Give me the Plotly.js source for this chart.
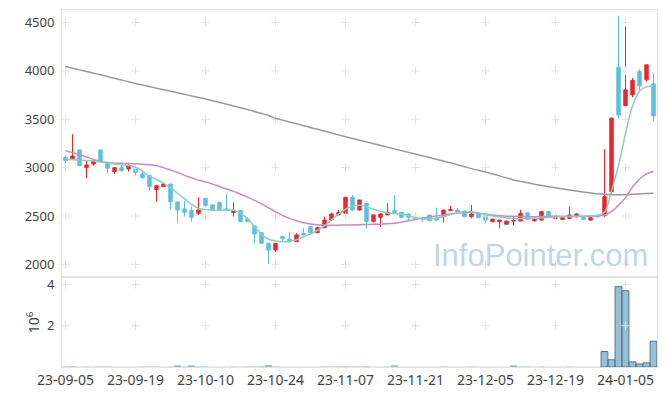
<!DOCTYPE html>
<html>
<head>
<meta charset="utf-8">
<script src="https://cdn.plot.ly/plotly-3.0.1.min.js"></script>
<style>
html,body{margin:0;padding:0;background:#fff;}
#chart{width:665px;height:396px;}
</style>
</head>
<body>
<div id="chart"></div>
<script>
const dates = [
'23-09-05','23-09-06','23-09-07','23-09-08','23-09-11','23-09-12','23-09-13','23-09-14','23-09-15','23-09-18',
'23-09-19','23-09-20','23-09-21','23-09-22','23-09-25','23-09-26','23-09-27','23-10-04','23-10-05','23-10-06',
'23-10-10','23-10-11','23-10-12','23-10-13','23-10-16','23-10-17','23-10-18','23-10-19','23-10-20','23-10-23',
'23-10-24','23-10-25','23-10-26','23-10-27','23-10-30','23-10-31','23-11-01','23-11-02','23-11-03','23-11-06',
'23-11-07','23-11-08','23-11-09','23-11-10','23-11-13','23-11-14','23-11-15','23-11-16','23-11-17','23-11-20',
'23-11-21','23-11-22','23-11-23','23-11-24','23-11-27','23-11-28','23-11-29','23-11-30','23-12-01','23-12-04',
'23-12-05','23-12-06','23-12-07','23-12-08','23-12-11','23-12-12','23-12-13','23-12-14','23-12-15','23-12-18',
'23-12-19','23-12-20','23-12-21','23-12-22','23-12-26','23-12-27','23-12-28','24-01-02','24-01-03','24-01-04',
'24-01-05','24-01-08','24-01-09','24-01-10','24-01-11'];

const openP = [
3107,3083,3183,3000,3038,3183,3055,2959,3000,2987,
2987,2935,2918,2773,2804,2831,2645,2573,2556,2528,
2683,2614,2642,2573,2535,2556,2469,2397,2328,2218,
2149,2287,2262,2234,2321,2390,2328,2379,2459,2511,
2528,2693,2562,2631,2442,2486,2511,2555,2538,2521,
2482,2482,2510,2476,2493,2555,2562,2551,2493,2520,
2503,2441,2441,2414,2448,2448,2534,2452,2458,2545,
2476,2465,2476,2493,2483,2458,2500,2505,2752,4039,
3642,3752,3994,3908,3866];
const highP = [
3125,3345,3183,3080,3087,3183,3062,3004,3035,3035,
3000,2952,2918,2821,2831,2831,2645,2659,2597,2694,
2683,2625,2642,2728,2642,2563,2487,2397,2328,2218,
2218,2297,2338,2321,2379,2390,2390,2493,2535,2562,
2693,2717,2666,2631,2511,2528,2631,2717,2538,2527,
2490,2493,2510,2586,2562,2603,2579,2555,2614,2524,
2503,2469,2458,2448,2503,2562,2534,2476,2555,2552,
2511,2487,2596,2528,2486,2490,2510,3190,3520,4570,
4501,3925,4018,4063,3977];
const lowP = [
3045,3083,3021,2890,3021,3055,2942,2935,2959,2959,
2918,2883,2762,2648,2804,2562,2424,2494,2442,2511,
2597,2556,2556,2556,2494,2442,2442,2218,2211,2004,
2131,2235,2224,2234,2297,2304,2321,2373,2448,2511,
2528,2555,2555,2372,2435,2390,2511,2528,2476,2445,
2460,2441,2445,2448,2434,2555,2538,2490,2476,2476,
2424,2434,2372,2410,2400,2448,2460,2441,2452,2495,
2470,2460,2465,2486,2460,2452,2486,2490,2717,3511,
3632,3728,3804,3890,3483];
const closeP = [
3073,3121,3021,3028,3069,3062,2994,3000,2969,3018,
2949,2897,2804,2814,2831,2648,2562,2538,2487,2563,
2607,2556,2556,2560,2556,2442,2442,2314,2218,2149,
2218,2266,2235,2304,2304,2328,2379,2459,2521,2535,
2693,2562,2666,2442,2511,2521,2538,2535,2486,2486,
2469,2469,2451,2458,2562,2565,2545,2493,2520,2482,
2458,2469,2458,2448,2452,2527,2465,2465,2545,2500,
2500,2482,2510,2521,2465,2483,2493,2700,3511,3545,
3804,3901,3845,4063,3535];
const volume = [
20000,35000,18000,25000,12000,30000,22000,15000,10000,14000,
18000,20000,25000,28000,9000,30000,90000,25000,90000,30000,
22000,15000,18000,12000,20000,16000,24000,28000,35000,100000,
20000,15000,12000,18000,10000,14000,16000,22000,25000,20000,
40000,30000,25000,38000,18000,16000,20000,80000,15000,12000,
10000,14000,11000,18000,25000,12000,10000,15000,20000,13000,
16000,12000,14000,11000,80000,30000,20000,12000,25000,18000,
10000,9000,22000,15000,11000,13000,10000,750000,350000,3900000,
3700000,250000,150000,200000,1250000];
const ma5 = [
3087,3083,3080,3075,3068,3058,3047,3038,3030,3022,
3005,2965,2910,2880,2840,2790,2735,2680,2620,2578,
2566,2563,2562,2561,2560,2530,2470,2390,2310,2260,
2242,2235,2237,2255,2285,2315,2350,2400,2460,2520,
2570,2600,2610,2595,2570,2550,2532,2525,2518,2505,
2482,2472,2470,2476,2495,2515,2535,2543,2545,2530,
2515,2500,2490,2480,2474,2472,2478,2478,2481,2485,
2490,2492,2495,2498,2500,2503,2508,2540,2760,3020,
3350,3640,3790,3835,3845];
const ma20 = [
3175,3155,3135,3110,3085,3063,3052,3046,3045,3043,
3040,3035,3030,3020,3000,2975,2950,2920,2895,2870,
2855,2830,2805,2780,2755,2725,2695,2662,2625,2585,
2545,2505,2475,2450,2430,2418,2410,2407,2405,2405,
2407,2408,2410,2412,2414,2416,2420,2425,2435,2450,
2465,2478,2490,2500,2510,2520,2530,2535,2535,2528,
2520,2510,2503,2498,2496,2494,2493,2493,2495,2497,
2498,2498,2497,2495,2494,2496,2500,2510,2545,2610,
2690,2800,2880,2935,2960];
const ma120 = [
4045,4028,4011,3994,3977,3960,3942,3924,3906,3888,
3870,3854,3838,3822,3806,3790,3774,3758,3742,3726,
3710,3692,3674,3656,3638,3620,3600,3580,3560,3540,
3510,3491,3472,3453,3434,3415,3396,3377,3358,3339,
3320,3302,3284,3266,3248,3230,3212,3194,3176,3158,
3140,3122,3104,3086,3068,3050,3030,3010,2990,2972,
2955,2935,2915,2894,2873,2858,2844,2829,2815,2803,
2791,2780,2769,2758,2748,2738,2730,2724,2720,2720,
2722,2725,2728,2732,2735];

const tickDates = ['23-09-05','23-09-19','23-10-10','23-10-24','23-11-07','23-11-21','23-12-05','23-12-19','24-01-05'];
const priceTicks = [2000,2500,3000,3500,4000,4500];
const volTicks = [2000000,4000000];
const volTickText = ['2','4'];

// grid "+" marks at tick intersections
const gx1=[], gy1=[], gx2=[], gy2=[];
tickDates.forEach(d=>{ priceTicks.forEach(p=>{gx1.push(d);gy1.push(p);}); volTicks.forEach(v=>{gx2.push(d);gy2.push(v);}); });

// outline only on bars tall enough to show one
const volLineW = volume.map(v => v > 120000 ? 1 : 0);

const RED='#e8282d', BLUE='#5bc0de';
const crossMarker = {symbol:'cross-thin',size:6,color:'#e2e2e2',line:{width:1,color:'#e2e2e2'}};
const traces = [
 {type:'scatter',mode:'markers',x:gx1,y:gy1,xaxis:'x',yaxis:'y',hoverinfo:'skip',marker:crossMarker,showlegend:false},
 {type:'scatter',mode:'markers',x:gx2,y:gy2,xaxis:'x',yaxis:'y2',hoverinfo:'skip',marker:crossMarker,showlegend:false},
 {type:'candlestick',x:dates,open:openP,high:highP,low:lowP,close:closeP,xaxis:'x',yaxis:'y',
  increasing:{line:{color:RED,width:1},fillcolor:RED},
  decreasing:{line:{color:BLUE,width:1},fillcolor:BLUE},
  whiskerwidth:0,showlegend:false},
 {type:'scatter',mode:'lines',x:dates,y:ma120,xaxis:'x',yaxis:'y',line:{color:'#9a9a9a',width:1.5,shape:'spline'},showlegend:false},
 {type:'scatter',mode:'lines',x:dates,y:ma20,xaxis:'x',yaxis:'y',line:{color:'#c98ac6',width:1.5,shape:'spline'},showlegend:false},
 {type:'scatter',mode:'lines',x:dates,y:ma5,xaxis:'x',yaxis:'y',line:{color:'#8ccdbd',width:1.5,shape:'spline'},showlegend:false},
 {type:'bar',x:dates,y:volume,xaxis:'x',yaxis:'y2',showlegend:false,
  marker:{color:'rgba(120,168,195,0.75)',line:{color:'rgba(60,110,145,0.9)',width:volLineW}}}
];

const tickFont = {family:'Noto Sans, DejaVu Sans, sans-serif',size:13,color:'#444'};
const layout = {
 width:665,height:396,
 margin:{l:62,r:8,t:10,b:29},
 paper_bgcolor:'#fff',plot_bgcolor:'#fff',
 showlegend:false,bargap:0.02,boxgap:0.3,
 xaxis:{type:'category',categoryorder:'array',categoryarray:dates,anchor:'y2',range:[-0.5,dates.length-0.5],
  tickmode:'array',tickvals:tickDates,ticktext:tickDates,
  showgrid:false,zeroline:false,showline:true,mirror:'all',linecolor:'#e3e3e3',linewidth:1,
  ticks:'',tickfont:{family:'Noto Sans, DejaVu Sans, sans-serif',size:14,color:'#444'},
  rangeslider:{visible:false},fixedrange:true},
 yaxis:{domain:[0.255,1],anchor:'x',range:[1880,4630],tickmode:'array',tickvals:priceTicks,
  showgrid:false,zeroline:false,showline:true,mirror:true,linecolor:'#e3e3e3',
  ticks:'',ticklabelstandoff:4,tickfont:tickFont},
 yaxis2:{domain:[0,0.25],anchor:'x',range:[0,4330000],tickmode:'array',tickvals:volTicks,ticktext:volTickText,
  showgrid:false,zeroline:false,showline:true,mirror:true,linecolor:'#e3e3e3',
  ticks:'',ticklabelstandoff:4,tickfont:tickFont,
  title:{text:'10<sup>6</sup>',font:{family:'Noto Sans, DejaVu Sans, sans-serif',size:14,color:'#444'},standoff:4}},
 annotations:[{xref:'paper',yref:'paper',x:0.988,y:0.311,xanchor:'right',yanchor:'middle',
  text:'InfoPointer.com',showarrow:false,
  font:{family:'Liberation Sans, Arial, sans-serif',size:31,color:'rgba(155,185,208,0.6)'}}]
};
Plotly.newPlot('chart',traces,layout,{displayModeBar:false,staticPlot:true});
</script>
</body>
</html>
